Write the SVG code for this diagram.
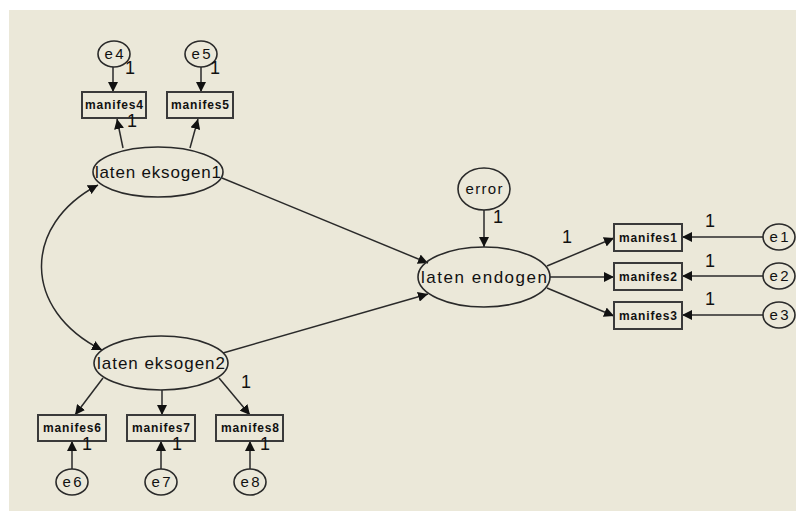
<svg xmlns="http://www.w3.org/2000/svg" width="796" height="511" viewBox="0 0 796 511">
<defs>
<marker id="ah" viewBox="0 0 10 10" refX="10" refY="5" markerWidth="10" markerHeight="10" markerUnits="userSpaceOnUse" orient="auto-start-reverse">
<path d="M0,0 L10,5 L0,10 z" fill="#111"/>
</marker>
<style>
.n{fill:none;stroke:#2a2a2a;stroke-width:1.6}
.b{fill:none;stroke:#3a3a3a;stroke-width:2}
.c{fill:none;stroke:#2a2a2a;stroke-width:1.5}
.t{font-family:"Liberation Sans",Arial,sans-serif;fill:#111;text-anchor:middle}
.lt{font-size:17px}
.bt{font-size:12px;font-weight:bold}
.et{font-size:15px}
.one{font-family:"Liberation Sans",Arial,sans-serif;font-size:18px;fill:#111;text-anchor:middle}
</style>
</defs>
<rect x="0" y="0" width="796" height="511" fill="#ffffff"/>
<rect x="9" y="10" width="787" height="501" fill="#EBE8D9"/>

<g id="connectors" class="c" marker-end="url(#ah)">
<line x1="113" y1="67" x2="113" y2="92"/>
<line x1="201" y1="67" x2="201" y2="92"/>
<line x1="123" y1="148" x2="117" y2="119"/>
<line x1="190" y1="148" x2="198" y2="119"/>
<line x1="222" y1="178" x2="428" y2="263"/>
<line x1="223" y1="353" x2="428" y2="294"/>
<path d="M98,185 C22,225 22,310 102,350" marker-start="url(#ah)"/>
<line x1="103" y1="378" x2="75" y2="415"/>
<line x1="162" y1="390" x2="162" y2="415"/>
<line x1="219" y1="378" x2="250" y2="415"/>
<line x1="72" y1="469" x2="72" y2="441"/>
<line x1="161" y1="469" x2="161" y2="441"/>
<line x1="250" y1="469" x2="250" y2="441"/>
<line x1="484" y1="210" x2="484" y2="247"/>
<line x1="547" y1="266" x2="614" y2="238"/>
<line x1="550" y1="277" x2="614" y2="277"/>
<line x1="547" y1="288" x2="614" y2="316"/>
<line x1="763" y1="237" x2="682" y2="237"/>
<line x1="763" y1="276" x2="682" y2="276"/>
<line x1="763" y1="315" x2="682" y2="315"/>
</g>

<g id="e4"><ellipse class="n" cx="114" cy="54" rx="16" ry="13"/><text class="t et" x="114" y="59" textLength="19">e4</text></g>
<g id="e5"><ellipse class="n" cx="201" cy="54" rx="16" ry="13"/><text class="t et" x="201" y="59" textLength="19">e5</text></g>
<g id="manifes4"><rect class="b" x="82" y="92" width="64" height="26"/><text class="t bt" x="114" y="109" textLength="58">manifes4</text></g>
<g id="manifes5"><rect class="b" x="167" y="92" width="66" height="26"/><text class="t bt" x="200" y="109" textLength="58">manifes5</text></g>
<g id="laten-eksogen1"><ellipse class="n" cx="158" cy="172" rx="65" ry="25"/><text class="t lt" x="158" y="178" textLength="126">laten eksogen1</text></g>
<g id="laten-eksogen2"><ellipse class="n" cx="161" cy="363" rx="67" ry="27"/><text class="t lt" x="161" y="369" textLength="128">laten eksogen2</text></g>
<g id="manifes6"><rect class="b" x="38" y="415" width="68" height="26"/><text class="t bt" x="72" y="432" textLength="58">manifes6</text></g>
<g id="manifes7"><rect class="b" x="127" y="415" width="68" height="26"/><text class="t bt" x="161" y="432" textLength="58">manifes7</text></g>
<g id="manifes8"><rect class="b" x="216" y="415" width="67" height="26"/><text class="t bt" x="250" y="432" textLength="58">manifes8</text></g>
<g id="e6"><ellipse class="n" cx="72" cy="482" rx="16" ry="13"/><text class="t et" x="72" y="487" textLength="19">e6</text></g>
<g id="e7"><ellipse class="n" cx="161" cy="482" rx="16" ry="13"/><text class="t et" x="161" y="487" textLength="19">e7</text></g>
<g id="e8"><ellipse class="n" cx="250" cy="482" rx="16" ry="13"/><text class="t et" x="250" y="487" textLength="19">e8</text></g>
<g id="error"><ellipse class="n" cx="484" cy="189" rx="26" ry="21"/><text class="t et" x="484" y="194" textLength="37">error</text></g>
<g id="laten-endogen"><ellipse class="n" cx="484" cy="277" rx="66" ry="30"/><text class="t lt" x="484" y="283" textLength="126">laten endogen</text></g>
<g id="manifes1"><rect class="b" x="614" y="224" width="68" height="27"/><text class="t bt" x="648" y="241.5" textLength="58">manifes1</text></g>
<g id="manifes2"><rect class="b" x="614" y="263" width="68" height="27"/><text class="t bt" x="648" y="280.5" textLength="58">manifes2</text></g>
<g id="manifes3"><rect class="b" x="614" y="302" width="68" height="27"/><text class="t bt" x="648" y="319.5" textLength="58">manifes3</text></g>
<g id="e1"><ellipse class="n" cx="779" cy="237" rx="16" ry="13"/><text class="t et" x="779" y="242" textLength="19">e1</text></g>
<g id="e2"><ellipse class="n" cx="779" cy="276" rx="16" ry="13"/><text class="t et" x="779" y="281" textLength="19">e2</text></g>
<g id="e3"><ellipse class="n" cx="779" cy="315" rx="16" ry="13"/><text class="t et" x="779" y="320" textLength="19">e3</text></g>

<g id="labels">
<text class="one" x="130" y="74">1</text>
<text class="one" x="215" y="74">1</text>
<text class="one" x="132" y="127">1</text>
<text class="one" x="246" y="388">1</text>
<text class="one" x="87" y="450">1</text>
<text class="one" x="177" y="450">1</text>
<text class="one" x="265" y="450">1</text>
<text class="one" x="498" y="223">1</text>
<text class="one" x="567" y="243">1</text>
<text class="one" x="710" y="227">1</text>
<text class="one" x="710" y="267">1</text>
<text class="one" x="710" y="305">1</text>
</g>
</svg>
